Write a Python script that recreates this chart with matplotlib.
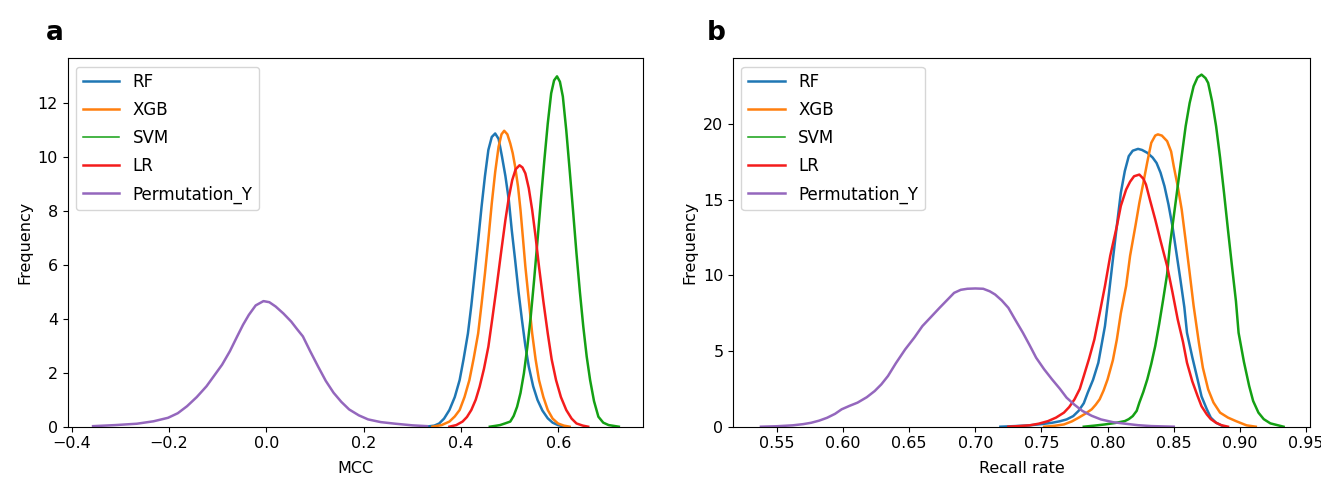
import matplotlib.pyplot as plt
import numpy as np

# values (density curves, x / y pairs)
mcc_rf_x = [0.327, 0.345, 0.355, 0.365, 0.376, 0.387, 0.397, 0.405, 0.414, 0.421, 0.428, 0.435, 0.442, 0.449, 0.456, 0.463, 0.470,
            0.477, 0.484, 0.491, 0.498, 0.504, 0.511, 0.518, 0.525, 0.532, 0.539, 0.548, 0.557, 0.567, 0.578, 0.588, 0.599, 0.613]
mcc_rf_y = [0, 0.04, 0.12, 0.3, 0.62, 1.1, 1.73, 2.5, 3.46, 4.5, 5.69, 6.9, 8.16, 9.3, 10.27, 10.75, 10.88,
            10.68, 10.02, 9.3, 8.41, 7.3, 6.18, 5.0, 3.96, 3.0, 2.23, 1.5, 0.99, 0.6, 0.31, 0.15, 0.06, 0]
mcc_xgb_x = [0.341, 0.360, 0.376, 0.387, 0.397, 0.407, 0.417, 0.426, 0.435, 0.442, 0.449, 0.456, 0.463, 0.470, 0.477, 0.483, 0.4885,
             0.495, 0.501, 0.506, 0.511, 0.517, 0.522, 0.527, 0.532, 0.539, 0.546, 0.553, 0.560, 0.569, 0.578, 0.588, 0.599, 0.611, 0.623]
mcc_xgb_y = [0, 0.06, 0.19, 0.38, 0.62, 1.1, 1.73, 2.55, 3.46, 4.55, 5.69, 6.95, 8.29, 9.45, 10.39, 10.85, 10.98,
             10.85, 10.51, 10.15, 9.65, 8.9, 8.04, 7.0, 5.94, 4.7, 3.46, 2.5, 1.73, 1.1, 0.62, 0.3, 0.12, 0.04, 0]
mcc_svm_x = [0.459, 0.470, 0.480, 0.490, 0.501, 0.508, 0.515, 0.522, 0.529, 0.536, 0.543, 0.550, 0.557, 0.564, 0.571, 0.578, 0.585,
             0.591, 0.597, 0.603, 0.609, 0.616, 0.623, 0.630, 0.637, 0.644, 0.651, 0.658, 0.665, 0.673, 0.682, 0.692, 0.703, 0.724]
mcc_svm_y = [0, 0.03, 0.06, 0.12, 0.19, 0.4, 0.74, 1.25, 1.98, 2.95, 4.08, 5.45, 6.93, 8.45, 9.89, 11.25, 12.37,
             12.85, 13.0, 12.8, 12.25, 11.0, 9.52, 8.0, 6.43, 5.0, 3.71, 2.6, 1.73, 0.95, 0.37, 0.15, 0.06, 0]
mcc_lr_x = [0.376, 0.390, 0.403, 0.412, 0.421, 0.430, 0.438, 0.447, 0.456, 0.464, 0.473, 0.482, 0.491, 0.498, 0.505, 0.512, 0.520,
            0.526, 0.532, 0.539, 0.546, 0.553, 0.560, 0.569, 0.578, 0.586, 0.595, 0.605, 0.616, 0.627, 0.637, 0.650, 0.661]
mcc_lr_y = [0, 0.06, 0.19, 0.36, 0.62, 1.0, 1.48, 2.15, 2.97, 4.0, 5.19, 6.45, 7.67, 8.5, 9.15, 9.55, 9.70,
            9.62, 9.40, 8.85, 8.04, 7.05, 5.94, 4.65, 3.46, 2.5, 1.73, 1.1, 0.62, 0.3, 0.12, 0.04, 0]
mcc_perm_x = [-0.356, -0.31, -0.266, -0.232, -0.202, -0.182, -0.163, -0.143, -0.123, -0.107, -0.091, -0.075, -0.060, -0.048,
              -0.036, -0.022, -0.006, 0.006, 0.019, 0.035, 0.051, 0.063, 0.075, 0.090, 0.106, 0.122, 0.138, 0.154, 0.170,
              0.190, 0.209, 0.235, 0.265, 0.300, 0.330]
mcc_perm_y = [0.02, 0.06, 0.11, 0.2, 0.33, 0.5, 0.76, 1.1, 1.50, 1.9, 2.30, 2.8, 3.35, 3.78,
              4.15, 4.5, 4.66, 4.62, 4.46, 4.2, 3.90, 3.62, 3.35, 2.8, 2.24, 1.7, 1.26, 0.92, 0.64,
              0.42, 0.27, 0.17, 0.11, 0.05, 0.02]

rec_rf_x = [0.719, 0.730, 0.741, 0.750, 0.758, 0.764, 0.769, 0.774, 0.778, 0.782, 0.785, 0.789, 0.793, 0.798, 0.801, 0.804,
            0.807, 0.810, 0.813, 0.816, 0.819, 0.823, 0.826, 0.830, 0.834, 0.837, 0.840, 0.843, 0.846, 0.849, 0.852, 0.855,
            0.858, 0.860, 0.864, 0.868, 0.871, 0.875, 0.878, 0.882, 0.888]
rec_rf_y = [0, 0.04, 0.09, 0.17, 0.26, 0.36, 0.48, 0.7, 1.04, 1.55, 2.25, 3.1, 4.23, 6.65, 8.8, 11.06,
            13.3, 15.46, 16.9, 17.89, 18.25, 18.37, 18.3, 18.11, 17.8, 17.44, 16.8, 15.90, 14.7, 13.26, 11.5, 9.74,
            7.9, 6.21, 4.6, 3.13, 2.0, 1.15, 0.6, 0.26, 0]
rec_xgb_x = [0.752, 0.760, 0.767, 0.773, 0.778, 0.783, 0.788, 0.791, 0.794, 0.797, 0.800, 0.804, 0.807, 0.810, 0.814, 0.817,
             0.821, 0.824, 0.827, 0.830, 0.833, 0.836, 0.838, 0.841, 0.845, 0.848, 0.850, 0.853, 0.856, 0.859, 0.862, 0.865,
             0.869, 0.872, 0.876, 0.880, 0.885, 0.891, 0.897, 0.905, 0.912]
rec_xgb_y = [0, 0.06, 0.15, 0.35, 0.59, 0.85, 1.15, 1.45, 1.81, 2.4, 3.13, 4.4, 5.77, 7.5, 9.30, 11.3,
             13.26, 14.8, 16.12, 17.5, 18.77, 19.25, 19.33, 19.25, 18.88, 18.2, 17.22, 15.9, 14.36, 12.3, 10.18, 8.0,
             5.55, 3.9, 2.47, 1.6, 0.93, 0.6, 0.37, 0.09, 0]
rec_svm_x = [0.782, 0.790, 0.798, 0.806, 0.813, 0.816, 0.819, 0.822, 0.824, 0.827, 0.830, 0.833, 0.836, 0.839, 0.842, 0.845,
             0.847, 0.850, 0.853, 0.856, 0.859, 0.862, 0.865, 0.868, 0.871, 0.874, 0.876, 0.879, 0.882, 0.885, 0.888, 0.891,
             0.894, 0.897, 0.899, 0.903, 0.907, 0.910, 0.914, 0.918, 0.923, 0.933]
rec_svm_y = [0, 0.07, 0.15, 0.25, 0.37, 0.5, 0.70, 1.05, 1.59, 2.3, 3.13, 4.15, 5.33, 6.8, 8.41, 10.1,
             11.94, 13.9, 15.90, 17.9, 19.87, 21.4, 22.51, 23.1, 23.28, 23.05, 22.73, 21.5, 19.87, 17.8, 15.46, 13.0,
             10.62, 8.3, 6.21, 4.3, 2.69, 1.7, 0.93, 0.5, 0.22, 0]
rec_lr_x = [0.725, 0.733, 0.741, 0.748, 0.755, 0.761, 0.767, 0.771, 0.775, 0.779, 0.782, 0.786, 0.790, 0.794, 0.798, 0.802,
            0.807, 0.810, 0.814, 0.817, 0.820, 0.824, 0.827, 0.829, 0.832, 0.836, 0.840, 0.845, 0.849, 0.853, 0.857, 0.860,
            0.864, 0.868, 0.871, 0.875, 0.878, 0.882, 0.886, 0.891]
rec_lr_y = [0, 0.04, 0.09, 0.2, 0.37, 0.6, 0.93, 1.3, 1.81, 2.5, 3.35, 4.5, 5.77, 7.5, 9.30, 11.3,
            13.26, 14.6, 15.68, 16.2, 16.56, 16.67, 16.4, 16.01, 15.0, 13.70, 12.3, 10.62, 8.9, 7.09, 5.6, 4.23,
            3.0, 2.03, 1.35, 0.81, 0.5, 0.26, 0.1, 0]
rec_perm_x = [0.538, 0.550, 0.562, 0.570, 0.576, 0.582, 0.588, 0.594, 0.599, 0.605, 0.611, 0.618, 0.624, 0.629, 0.634, 0.640,
              0.647, 0.654, 0.660, 0.667, 0.673, 0.679, 0.684, 0.689, 0.694, 0.700, 0.706, 0.711, 0.715, 0.720, 0.725, 0.730,
              0.736, 0.741, 0.746, 0.752, 0.758, 0.764, 0.769, 0.775, 0.781, 0.788, 0.795, 0.804, 0.813, 0.823, 0.833, 0.850]
rec_perm_y = [0.0, 0.03, 0.09, 0.17, 0.26, 0.4, 0.59, 0.85, 1.15, 1.38, 1.59, 1.95, 2.36, 2.8, 3.35, 4.2,
              5.11, 5.9, 6.65, 7.3, 7.86, 8.4, 8.85, 9.05, 9.12, 9.14, 9.12, 8.95, 8.74, 8.35, 7.86, 7.1,
              6.21, 5.4, 4.56, 3.8, 3.13, 2.5, 1.92, 1.45, 1.04, 0.72, 0.48, 0.3, 0.20, 0.1, 0.04, 0]

labels = ['RF', 'XGB', 'SVM', 'LR', 'Permutation_Y']
colors = ['#1f77b4', '#ff7f0e', '#14a014', '#f41c1c', '#9467bd']

plt.rcParams['font.size'] = 11.5

fig = plt.figure(figsize=(13.21, 4.79), dpi=100)
ax1 = fig.add_axes([0.0513, 0.1092, 0.4354, 0.7691])
ax2 = fig.add_axes([0.5550, 0.1092, 0.4367, 0.7691])

panels = [
    (ax1, [(mcc_rf_x, mcc_rf_y), (mcc_xgb_x, mcc_xgb_y), (mcc_svm_x, mcc_svm_y), (mcc_lr_x, mcc_lr_y), (mcc_perm_x, mcc_perm_y)],
     'MCC', 'a', -0.038),
    (ax2, [(rec_rf_x, rec_rf_y), (rec_xgb_x, rec_xgb_y), (rec_svm_x, rec_svm_y), (rec_lr_x, rec_lr_y), (rec_perm_x, rec_perm_y)],
     'Recall rate', 'b', -0.046),
]

for ax, series, xlabel, letter, lx in panels:
    for (x, y), lab, c in zip(series, labels, colors):
        ax.plot(x, y, color=c, lw=1.8, label=lab, solid_joinstyle='round')
    ax.set_xlabel(xlabel, labelpad=7)
    ax.set_ylabel('Frequency')
    leg = ax.legend(loc='upper left', fontsize=12, handlelength=2.2, labelspacing=0.6)
    leg.get_lines()[2].set_linewidth(1.1)
    ax.text(lx, 1.05, letter, transform=ax.transAxes, fontsize=19, fontweight='bold',
            va='baseline', ha='left')

ax1.set_xlim(-0.408, 0.7735)
ax1.set_ylim(0, 13.67)
ax2.set_xlim(0.517, 0.953)
ax2.set_ylim(0, 24.36)
ax2.set_xticks(np.arange(0.55, 0.951, 0.05))

fig.savefig('out.png', dpi=100)
